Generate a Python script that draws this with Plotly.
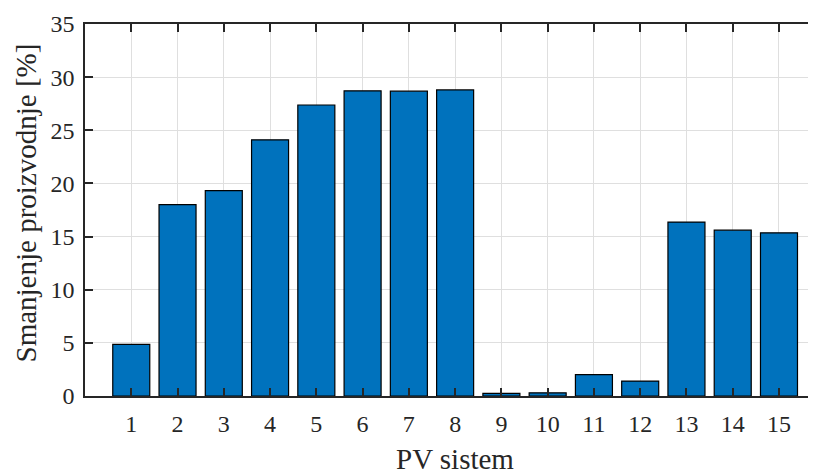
import plotly.graph_objects as go

systems = list(range(1, 16))
reduction = [4.85, 18.0, 19.33, 24.1, 27.38, 28.71, 28.68, 28.8, 0.24, 0.3, 2.02, 1.4, 16.36, 15.6, 15.35]
x_ticks = list(range(1, 16))
y_ticks = [0, 5, 10, 15, 20, 25, 30, 35]

FONT = "Liberation Serif, Times New Roman, Times, serif"
AX = "#262626"
GRID = "#dfdfdf"

W, H = 808, 462
L, T, B = 77, 16, 74
PH = H - T - B

fig = go.Figure()
fig.add_trace(go.Bar(
    x=systems, y=reduction, width=0.8,
    marker=dict(color="#0072BD", line=dict(color="#000000", width=1.2)),
))
fig.add_trace(go.Scatter(x=[None], y=[None], xaxis="x2", showlegend=False))

fig.update_layout(
    width=W, height=H,
    margin=dict(l=L, r=0, t=T, b=B, pad=0),
    plot_bgcolor="white", paper_bgcolor="white",
    showlegend=False,
    font=dict(family=FONT, size=24, color=AX),
    xaxis=dict(
        range=[0, 15.8], tickmode="array", tickvals=x_ticks,
        ticktext=[str(v) for v in x_ticks],
        ticks="inside", ticklen=8, tickwidth=1.5, tickcolor=AX,
        showline=True, linecolor=AX, linewidth=1.5,
        showgrid=True, gridcolor=GRID, gridwidth=1,
        zeroline=False, ticklabelstandoff=5,
        tickfont=dict(family=FONT, size=24, color=AX),
    ),
    xaxis2=dict(
        overlaying="x", side="top", matches="x", range=[0, 15.8],
        tickmode="array", tickvals=x_ticks, showticklabels=False,
        ticks="inside", ticklen=8, tickwidth=1.5, tickcolor=AX,
        showline=True, linecolor=AX, linewidth=1.5, showgrid=False, zeroline=False,
    ),
    yaxis=dict(
        range=[0, 35], tickmode="array", tickvals=y_ticks,
        ticks="inside", ticklen=8, tickwidth=1.5, tickcolor=AX,
        showline=True, linecolor=AX, linewidth=1.5,
        showgrid=True, gridcolor=GRID, gridwidth=1,
        zeroline=False, ticklabelstandoff=4,
        tickfont=dict(family=FONT, size=24, color=AX),
    ),
    annotations=[
        dict(text="PV sistem", x=8, xref="x", y=(T + PH - 451) / PH, yref="paper",
             xanchor="center", yanchor="middle", showarrow=False,
             font=dict(family=FONT, size=29, color=AX)),
        dict(text="Smanjenje proizvodnje [%]", x=(17.5 - L) / (W - L), xref="paper", xanchor="center",
             y=(T + PH - 195) / PH, yref="paper", yanchor="middle", textangle=-90, showarrow=False,
             font=dict(family=FONT, size=29, color=AX)),
    ],
)

fig.write_html("out.html")
